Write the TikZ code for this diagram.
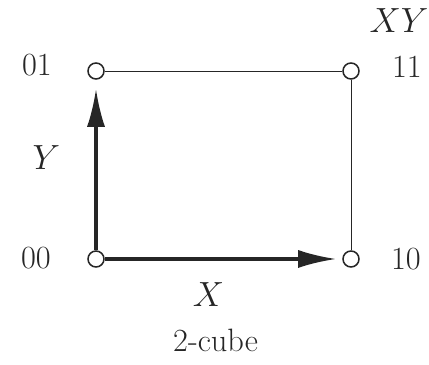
\documentclass[tikz,border=0pt]{standalone}
\usepackage{fontspec}
\usetikzlibrary{arrows.meta}
\begin{document}
\begin{tikzpicture}[font=\fontsize{23}{27}\selectfont,black!85,
  vertex/.style={circle,draw,line width=1.1pt,fill=white,minimum size=0.4cm,inner sep=0pt},
  edge/.style={line width=0.7pt},
  axis/.style={line width=2.2pt,-{Latex[length=0.95cm,width=0.45cm]}},
  lbl/.style={anchor=base,inner sep=0pt}]
  \useasboundingbox (0,0) rectangle (10.725,9.125);
  % 顶点
  \node[vertex] (v00) at (2.4,2.65) {};
  \node[vertex] (v10) at (8.775,2.65) {};
  \node[vertex] (v01) at (2.4,7.35) {};
  \node[vertex] (v11) at (8.775,7.35) {};
  % 细边
  \draw[edge] (v01) -- (v11);
  \draw[edge] (v11) -- (v10);
  % 坐标轴
  \draw[axis,shorten >=0.15cm] (v00) -- (v10);
  \draw[axis,shorten >=0.225cm] (v00) -- (v01);
  % 标注
  \node[lbl] (l00) at (0.9,2.42) {00};
  \node[lbl] (l10) at (10.15,2.375) {10};
  \node[lbl] (l01) at (0.925,7.225) {01};
  \node[lbl] (l11) at (10.175,7.175) {11};
  \node[lbl] (lxy) at (9.975,8.3) {$XY$};
  \node[lbl] (ly) at (1.16,4.875) {$Y$};
  \node[lbl] (lx) at (5.21,1.45) {$X$};
  \node[lbl] (title) at (5.39,0.325) {2-cube};
\end{tikzpicture}
\end{document}
